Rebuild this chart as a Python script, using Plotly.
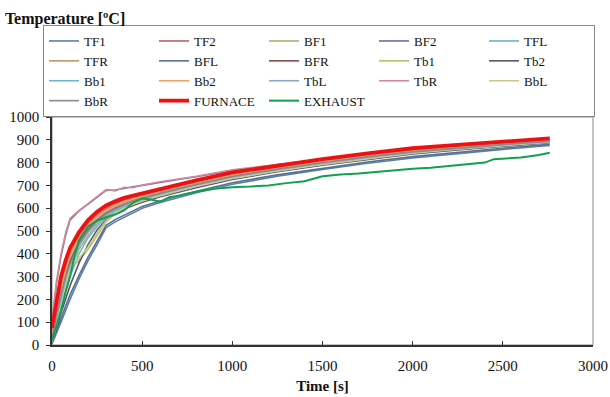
import plotly.graph_objects as go

# Common time base for the sensor series [s]
T = [0, 25, 50, 75, 100, 150, 200, 250, 300, 350, 400, 450, 500, 600, 700, 800,
     1000, 1250, 1500, 1750, 2000, 2250, 2500, 2760]

TF1 = [5, 50, 100, 150, 200, 290, 370, 440, 515, 540, 560, 580, 600, 625, 648, 668, 705, 740, 770, 797, 820, 840, 858, 875]
TF2 = [60, 180, 290, 360, 415, 480, 535, 572, 600, 620, 636, 648, 658, 680, 700, 717, 752, 783, 810, 835, 858, 874, 887, 900]
BF1 = [20, 100, 190, 260, 330, 420, 480, 530, 565, 590, 610, 625, 640, 662, 682, 700, 735, 768, 796, 822, 845, 862, 877, 892]
BF2 = [100, 270, 390, 480, 548, 588, 618, 648, 678, 680, 688, 694, 700, 714, 726, 738, 765, 791, 814, 836, 857, 873, 886, 899]
TFL = [30, 130, 230, 310, 380, 460, 515, 555, 585, 605, 622, 636, 648, 670, 690, 708, 743, 775, 803, 828, 850, 867, 881, 895]
TFR = [40, 150, 260, 340, 400, 470, 525, 562, 592, 612, 628, 642, 652, 674, 694, 712, 747, 778, 806, 831, 853, 870, 884, 897]
BFL = [10, 60, 115, 170, 220, 305, 385, 455, 525, 550, 570, 590, 608, 632, 655, 674, 712, 746, 776, 803, 826, 846, 863, 880]
BFR = [25, 120, 220, 300, 365, 450, 505, 548, 578, 600, 618, 632, 645, 667, 687, 705, 740, 772, 800, 826, 848, 865, 880, 894]
Tb1 = [15, 80, 160, 250, 340, 370, 420, 480, 540, 575, 598, 615, 630, 653, 674, 693, 728, 762, 791, 817, 840, 858, 874, 889]
Tb2 = [12, 70, 140, 200, 260, 360, 440, 505, 550, 575, 596, 612, 626, 650, 671, 690, 726, 760, 789, 815, 838, 856, 872, 887]
Bb1 = [18, 90, 175, 240, 300, 400, 470, 520, 560, 585, 605, 620, 634, 657, 678, 697, 732, 765, 794, 820, 843, 861, 876, 891]
Bb2 = [35, 140, 245, 325, 390, 465, 520, 558, 588, 608, 625, 639, 650, 672, 692, 710, 745, 777, 805, 830, 852, 869, 883, 896]
TbL = [22, 110, 205, 280, 345, 435, 495, 540, 572, 595, 614, 628, 642, 664, 684, 702, 737, 769, 797, 823, 846, 863, 878, 893]
TbR = [110, 280, 400, 490, 555, 590, 620, 650, 682, 676, 692, 690, 702, 716, 728, 740, 768, 793, 816, 838, 858, 874, 887, 900]
BbL = [15, 85, 170, 260, 345, 380, 430, 490, 545, 578, 600, 617, 632, 655, 676, 695, 730, 763, 792, 818, 841, 859, 875, 890]
BbR = [28, 125, 225, 295, 355, 445, 500, 545, 575, 598, 616, 630, 644, 666, 686, 704, 739, 771, 799, 825, 847, 864, 879, 893]
FURNACE = [75, 200, 300, 370, 425, 495, 548, 585, 612, 630, 645, 655, 665, 686, 705, 722, 757, 787, 815, 840, 863, 878, 890, 906]

# Exhaust has its own, finer time base
T_EXH = [0, 25, 50, 75, 100, 125, 150, 200, 250, 300, 350, 400, 450, 500, 550, 600, 650, 700,
         800, 900, 1000, 1100, 1200, 1300, 1400, 1500, 1600, 1700, 1800, 1900, 2000, 2100,
         2200, 2300, 2400, 2450, 2500, 2600, 2700, 2760]
EXHAUST = [20, 80, 150, 230, 300, 390, 460, 520, 545, 560, 572, 590, 625, 643, 638, 628, 648, 655,
           672, 685, 692, 695, 700, 710, 718, 740, 748, 752, 760, 765, 773, 777,
           785, 790, 800, 815, 818, 822, 833, 843]

NAMES = ["TF1", "TF2", "BF1", "BF2", "TFL", "TFR", "BFL", "BFR", "Tb1", "Tb2",
         "Bb1", "Bb2", "TbL", "TbR", "BbL", "BbR"]
SERIES = [TF1, TF2, BF1, BF2, TFL, TFR, BFL, BFR, Tb1, Tb2, Bb1, Bb2, TbL, TbR, BbL, BbR]
COLORS = ["#5b7fb0", "#c0606a", "#a5b575", "#7a6aa0", "#6ab4cc", "#c8966a", "#56708f", "#8a4a4a",
          "#b5c06a", "#5a5565", "#6ab8d0", "#f0a060", "#8aa8c8", "#d08a9a", "#c8c890", "#8a8698"]

fig = go.Figure()
for name, vals, col in zip(NAMES, SERIES, COLORS):
    fig.add_trace(go.Scatter(x=T, y=vals, mode="lines", name=name,
                             line=dict(color=col, width=1.6)))
fig.add_trace(go.Scatter(x=T, y=FURNACE, mode="lines", name="FURNACE",
                         line=dict(color="#ee1111", width=3.8)))
fig.add_trace(go.Scatter(x=T_EXH, y=EXHAUST, mode="lines", name="EXHAUST",
                         line=dict(color="#10a050", width=2)))

font = "Liberation Serif"
fig.update_layout(
    width=610, height=397,
    margin=dict(l=52, r=17, t=117, b=52),
    paper_bgcolor="white", plot_bgcolor="white",
    font=dict(family=font, size=15, color="#111"),
    title=dict(text="<b>Temperature [ºC]</b>", x=0.008, xref="container", xanchor="left",
               y=1 - 18 / 397, yref="container", yanchor="middle",
               font=dict(family=font, size=16, color="#111")),
    showlegend=True,
    legend=dict(orientation="h", x=-9 / 541, xanchor="left", y=1, yanchor="bottom",
                bordercolor="#888", borderwidth=1, entrywidth=65, entrywidthmode="pixels",
                font=dict(family=font, size=13, color="#111"), tracegroupgap=0,
                bgcolor="white"),
    xaxis=dict(range=[0, 3000], dtick=500, showgrid=False, zeroline=False, automargin=False,
               showline=True, linecolor="#333", linewidth=1.5, ticks="inside", ticklen=4,
               tickcolor="#333", ticklabelstandoff=6,
               title=dict(text="<b>Time [s]</b>", standoff=8,
                          font=dict(family=font, size=15))),
    yaxis=dict(range=[0, 1000], dtick=100, showgrid=False, zeroline=False, automargin=False,
               showline=True, linecolor="#333", linewidth=1.5, ticks="outside", ticklen=4,
               tickcolor="#333", ticklabelstandoff=4),
    shapes=[dict(type="rect", xref="paper", yref="paper", x0=0, y0=0, x1=1, y1=1,
                 line=dict(color="#888", width=1), layer="below")],
)

fig.write_html("out.html")
